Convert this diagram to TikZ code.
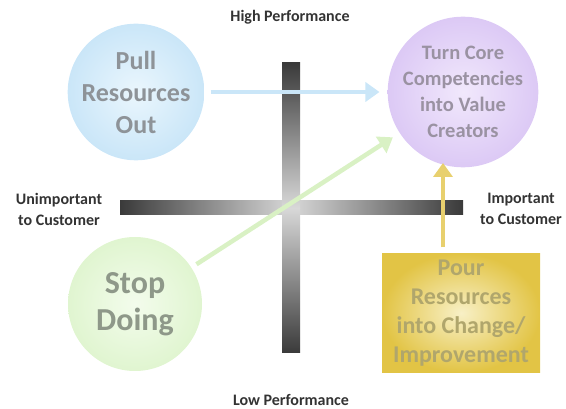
\documentclass[tikz,border=0pt]{standalone}
\usepackage{fontspec}
\setmainfont{Carlito}
\usetikzlibrary{arrows.meta}

\definecolor{axisdark}{HTML}{3A3A3A}
\definecolor{axislight}{HTML}{D8D8D8}
\definecolor{labelgray}{HTML}{333333}
\definecolor{pullout}{HTML}{CAE6F8}
\definecolor{pullin}{HTML}{EAF6FD}
\definecolor{pulltext}{HTML}{8E9398}
\definecolor{turnout}{HTML}{DCC9F5}
\definecolor{turnin}{HTML}{F1E8FC}
\definecolor{turntext}{HTML}{9A92A2}
\definecolor{stopout}{HTML}{E0F5D0}
\definecolor{stopin}{HTML}{F3FCEC}
\definecolor{stoptext}{HTML}{8E9889}
\definecolor{pourout}{HTML}{E2C445}
\definecolor{pourin}{HTML}{F8F0C6}
\definecolor{pourtext}{HTML}{B0A66C}
\definecolor{movegreen}{HTML}{D9F1C4}
\definecolor{moveyellow}{HTML}{E8D06E}

\tikzset{
  axislabel/.style={font=\fontsize{16}{21}\selectfont\bfseries, text=labelgray, align=center},
  quadcircle/.style={circle, minimum size=134pt, inner sep=0pt, align=center},
  quadarrow/.style={line width=4.5pt, -{Triangle[width=19pt,length=14pt]}, shorten <=6pt, shorten >=8pt}
}

\begin{document}
\begin{tikzpicture}[x=1pt,y=-1pt]
\useasboundingbox (0,0) rectangle (566,409);

% the two performance / importance axes
\shade[left color=axisdark, right color=axisdark, middle color=axislight] (120,201) rectangle (463,215);
\shade[top color=axisdark, bottom color=axisdark, middle color=axislight] (282,63) rectangle (300,353);

\node[axislabel] (high) at (290,17) {High Performance};
\node[axislabel] (low) at (291,400) {Low Performance};
\node[axislabel] (unimp) at (59,209) {Unimportant\\to Customer};
\node[axislabel] (imp) at (521,209) {Important\\to Customer};

% quadrants
\node[quadcircle, inner color=pullin, outer color=pullout, text=pulltext,
  font=\fontsize{26}{32}\selectfont\bfseries] (pull) at (136,92) {Pull\\Resources\\Out};
\node[quadcircle, minimum size=132pt, inner color=turnin, outer color=turnout, text=turntext,
  font=\fontsize{20.5}{26}\selectfont\bfseries] (turn) at (463,92) {Turn Core\\Competencies\\into Value\\Creators};
\node[quadcircle, inner color=stopin, outer color=stopout, text=stoptext,
  font=\fontsize{32}{37}\selectfont\bfseries] (stop) at (135,304) {Stop\\Doing};
\node[rectangle, minimum width=158pt, minimum height=119pt, inner sep=0pt, align=center,
  inner color=pourin, outer color=pourout, text=pourtext,
  font=\fontsize{24}{29}\selectfont\bfseries] (pour) at (461,313) {Pour\\Resources\\into Change/\\Improvement};

% moves between quadrants
\draw[quadarrow, color=pullout] (pull) -- (turn);
\draw[quadarrow, color=movegreen] (stop) -- (turn);
\coordinate (pourtop) at ([xshift=-18pt]pour.north);
\coordinate (turnlow) at (443,155);
\draw[quadarrow, color=moveyellow] (pourtop) -- (turnlow);

\end{tikzpicture}
\end{document}
